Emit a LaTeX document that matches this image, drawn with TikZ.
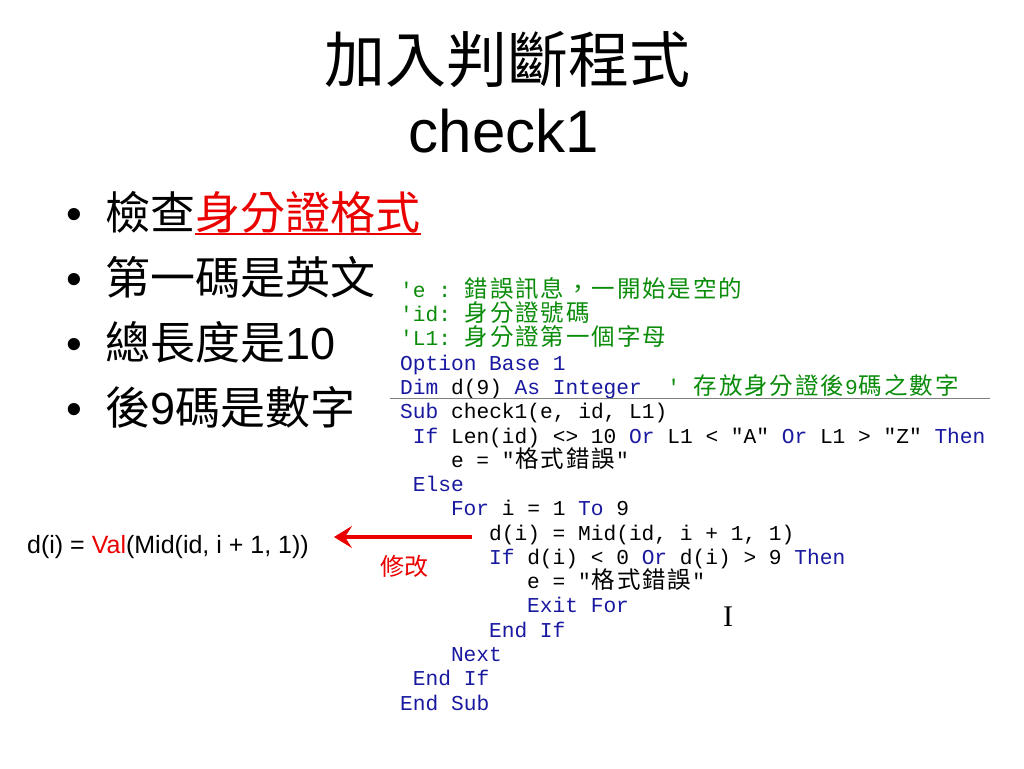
\documentclass[tikz,border=0pt]{standalone}
\usepackage{fontspec}
\usetikzlibrary{arrows.meta}
\setmainfont{Liberation Sans}
\setmonofont{Liberation Mono}
\newfontfamily\cjk{Noto Sans CJK TC}
\newfontfamily\codecjk{Noto Sans CJK TC}
\newfontfamily\serifI{Liberation Serif}
\definecolor{codeblue}{RGB}{25,25,160}
\definecolor{codegreen}{RGB}{10,140,10}
\definecolor{slidered}{RGB}{235,0,0}
\newcommand\codefont{\ttfamily\fontsize{21.2}{24}\selectfont}
\newcommand\kw[1]{\textcolor{codeblue}{#1}}
\newcommand\cm[1]{\textcolor{codegreen}{#1}}
\def\cjwloop#1{\ifx\relax#1\else\makebox[25.4pt]{\codecjk\fontsize{23.5}{24}\selectfont#1}\expandafter\cjwloop\fi}
\newcommand\cjw[1]{\cjwloop#1\relax}
\begin{document}
\begin{tikzpicture}[x=1pt,y=-1pt,
  code/.style={anchor=base west,inner sep=0pt,font=\codefont},
  bul/.style={anchor=base west,inner sep=0pt,font=\fontsize{45}{45}\selectfont},
  redarrow/.style={draw=slidered,line width=3.5pt,-{Stealth[length=18pt,width=22pt,inset=7pt]}}]
\useasboundingbox[fill=white] (0,0) rectangle (1024,768);
% title
\node[anchor=base,inner sep=0pt,font=\cjk\fontsize{61}{61}\selectfont] (t1) at (507,82) {加入判斷程式};
\node[anchor=base,inner sep=0pt,font=\fontsize{60}{60}\selectfont] (t2) at (504,152) {check1};
% bullets
\node[bul] (d1) at (66,229) {•};
\node[bul] (b1a) at (105,229) {\cjk 檢查};
\node[bul,text=slidered,anchor=base west] (b1b) at (b1a.base east) {\cjk 身分證格式};
\draw[slidered,line width=2pt] ([yshift=-1pt]b1b.south west) -- ([yshift=-1pt]b1b.south east);
\node[bul] (d2) at (66,294) {•};
\node[bul] (b2) at (105,294) {\cjk 第一碼是英文};
\node[bul] (d3) at (66,359) {•};
\node[bul] (b3) at (105,359) {{\cjk 總長度是}10};
\node[bul] (d4) at (66,424) {•};
\node[bul] (b4) at (105,424) {{\cjk 後}9{\cjk 碼是數字}};
% code
\node[code] (c1) at (400,297.4) {\cm{'e : \cjw{錯誤訊息，一開始是空的}}};
\node[code] (c2) at (400,321.7) {\cm{'id: \cjw{身分證號碼}}};
\node[code] (c3) at (400,345.9) {\cm{'L1: \cjw{身分證第一個字母}}};
\node[code] (c4) at (400,370.2) {\kw{Option Base 1}};
\node[code] (c5) at (400,394.5) {\kw{Dim} d(9) \kw{As Integer}\ \ \cm{' \cjw{存放身分證後}9\cjw{碼之數字}}};
\coordinate (hl1) at (390,398.5);
\coordinate (hl2) at (990,398.5);
\draw[gray,line width=1.5pt] (hl1) -- (hl2);
\node[code] (c6) at (400,418.8) {\kw{Sub} check1(e, id, L1)};
\node[code] (c7) at (412.7,443.0) {\kw{If} Len(id) <> 10 \kw{Or} L1 < "A" \kw{Or} L1 > "Z" \kw{Then}};
\node[code] (c8) at (450.8,467.3) {e = "\cjw{格式錯誤}"};
\node[code] (c9) at (412.7,491.6) {\kw{Else}};
\node[code] (c10) at (450.8,515.8) {\kw{For} i = 1 \kw{To} 9};
\node[code] (c11) at (488.9,540.1) {d(i) = Mid(id, i + 1, 1)};
\node[code] (c12) at (488.9,564.4) {\kw{If} d(i) < 0 \kw{Or} d(i) > 9 \kw{Then}};
\node[code] (c13) at (527,588.6) {e = "\cjw{格式錯誤}"};
\node[code] (c14) at (527,612.9) {\kw{Exit For}};
\node[code] (c15) at (488.9,637.2) {\kw{End If}};
\node[code] (c16) at (450.8,661.5) {\kw{Next}};
\node[code] (c17) at (412.7,685.7) {\kw{End If}};
\node[code] (c18) at (400,710.0) {\kw{End Sub}};
% cursor
\node[inner sep=0pt,font=\serifI\fontsize{30}{30}\selectfont] (cur) at (728,617) {I};
% fix and arrow
\node[anchor=base west,inner sep=0pt,font=\fontsize{25}{25}\selectfont] (fix) at (27,553) {d(i) = \textcolor{slidered}{Val}(Mid(id, i + 1, 1))};
\coordinate (arrS) at (472,537);
\draw[redarrow] (arrS) -- ([xshift=25pt]arrS -| fix.east);
\node[inner sep=0pt,text=slidered,font=\cjk\fontsize{24}{24}\selectfont] (mod) at (404,566.5) {修改};
\end{tikzpicture}
\end{document}
